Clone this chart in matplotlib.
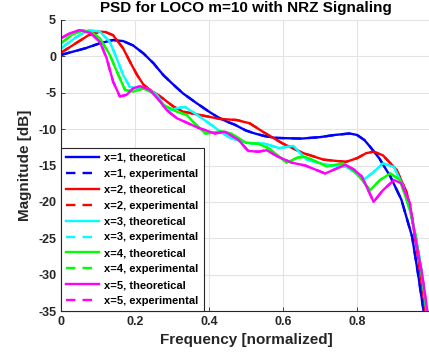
import matplotlib
matplotlib.use("Agg")
import matplotlib.pyplot as plt

# --- data (normalized frequency, magnitude in dB) ---
f_x1 = [0, 0.065, 0.105, 0.141, 0.168, 0.195, 0.223, 0.25, 0.277, 0.304, 0.33,
        0.367, 0.4, 0.425, 0.45, 0.47, 0.5, 0.524, 0.55, 0.578, 0.61,
        0.65, 0.7, 0.74, 0.78, 0.8, 0.82, 0.835, 0.86, 0.89, 0.92, 0.949,
        0.965, 0.98]
db_x1 = [0.2, 1.1, 1.8, 2.25, 2.1, 1.5, 0.4, -0.95, -2.6, -3.9, -5.1,
         -6.45, -7.6, -8.4, -9.0, -9.4, -10.2, -10.6, -10.95, -11.2, -11.25,
         -11.3, -11.1, -10.8, -10.6, -10.8, -11.5, -12.4, -14.0, -16.5, -19.7, -24.8,
         -29.9, -35]

f_x2 = [0, 0.04, 0.074, 0.105, 0.12, 0.141, 0.168, 0.186, 0.205, 0.223, 0.24,
        0.268, 0.304, 0.33, 0.36, 0.4, 0.43, 0.475, 0.51, 0.55, 0.6, 0.655,
        0.71, 0.77, 0.8, 0.825, 0.845, 0.87, 0.907, 0.935, 0.948, 0.965, 0.985]
db_x2 = [0.5, 1.8, 2.9, 3.4, 3.35, 2.9, 1.1, -0.7, -2.5, -3.9, -4.6,
         -5.5, -6.9, -7.6, -7.9, -8.3, -8.6, -8.75, -9.2, -10.5, -12.0, -13.3,
         -14.2, -14.5, -14.0, -13.3, -13.1, -13.6, -15.6, -18.8, -22.0, -27.5, -35]

f_x3 = [0, 0.04, 0.074, 0.105, 0.132, 0.15, 0.168, 0.186, 0.205, 0.232, 0.259,
        0.28, 0.295, 0.315, 0.335, 0.367, 0.403, 0.43, 0.457, 0.49, 0.52, 0.547,
        0.59, 0.628, 0.664, 0.718, 0.772, 0.795, 0.817, 0.845, 0.87, 0.9, 0.925,
        0.95, 0.97, 0.988]
db_x3 = [1.1, 2.6, 3.6, 3.4, 2.0, -0.2, -2.55, -4.2, -4.4, -4.4, -5.3,
         -6.8, -7.4, -7.1, -6.95, -8.0, -9.3, -10.3, -11.2, -11.7, -12.0, -11.95,
         -12.6, -12.3, -14.2, -14.9, -15.2, -16.0, -17.0, -15.9, -14.7, -15.2, -17.9,
         -22.5, -28.0, -35]

f_x4 = [0, 0.03, 0.06, 0.085, 0.105, 0.132, 0.155, 0.173, 0.195, 0.223, 0.25,
        0.277, 0.313, 0.34, 0.357, 0.39, 0.41, 0.43, 0.46, 0.5, 0.533, 0.56,
        0.583, 0.61, 0.64, 0.66, 0.718, 0.763, 0.8, 0.835, 0.862, 0.89, 0.916,
        0.943, 0.96, 0.978, 0.988]
db_x4 = [1.8, 3.0, 3.6, 3.2, 2.5, 0.2, -2.55, -4.6, -4.85, -4.4, -5.1,
         -6.7, -7.6, -8.05, -9.0, -10.6, -10.5, -10.3, -10.6, -11.9, -12.0, -12.6,
         -13.5, -14.6, -13.9, -13.8, -15.1, -14.7, -16.1, -18.4, -17.0, -16.1, -17.0,
         -21.1, -25.0, -31.0, -35]

f_x5 = [0, 0.025, 0.05, 0.08, 0.105, 0.123, 0.141, 0.159, 0.177, 0.195, 0.214,
        0.24, 0.268, 0.286, 0.313, 0.335, 0.37, 0.416, 0.443, 0.48, 0.506, 0.533,
        0.556, 0.587, 0.623, 0.66, 0.714, 0.768, 0.79, 0.813, 0.845, 0.87, 0.9,
        0.92, 0.943, 0.957, 0.976, 0.99]
db_x5 = [2.5, 3.2, 3.6, 3.2, 2.0, -0.2, -3.5, -5.5, -5.3, -4.4, -4.1,
         -4.6, -6.2, -7.4, -8.5, -9.0, -9.8, -10.6, -10.35, -11.5, -13.0, -13.1,
         -12.9, -13.8, -14.6, -15.0, -16.1, -14.9, -15.5, -16.5, -20.0, -18.4, -17.0,
         -17.45, -20.2, -24.8, -29.9, -35]

series = [
    ("x=1", f_x1, db_x1, "#0000ff"),
    ("x=2", f_x2, db_x2, "#ff0000"),
    ("x=3", f_x3, db_x3, "#00ffff"),
    ("x=4", f_x4, db_x4, "#00ff00"),
    ("x=5", f_x5, db_x5, "#ff00ff"),
]

x_ticks = [0, 0.2, 0.4, 0.6, 0.8]
x_tick_labels = ["0", "0.2", "0.4", "0.6", "0.8"]
y_ticks = [5, 0, -5, -10, -15, -20, -25, -30, -35]

plt.rcParams["font.family"] = ["Liberation Sans", "DejaVu Sans"]
plt.rcParams["font.weight"] = "bold"
plt.rcParams["axes.unicode_minus"] = False

fig = plt.figure(figsize=(4.29, 3.6), dpi=100)
ax = fig.add_axes([61 / 429, 1 - 311 / 360, 370 / 429, 291 / 360])

handles = []
labels = []
for name, f, db, color in series:
    theo, = ax.plot(f, db, color=color, lw=1.7, solid_joinstyle="round")
    # experimental curves lie under the theoretical ones
    expe, = ax.plot(f, db, color=color, lw=1.7, linestyle=(0, (4, 3)), zorder=1.9)
    handles += [theo, expe]
    labels += [f"{name}, theoretical", f"{name}, experimental"]

ax.set_xlim(0, 1)
ax.set_ylim(-35, 5)
ax.set_xticks(x_ticks)
ax.set_xticklabels(x_tick_labels)
ax.set_yticks(y_ticks)
ax.tick_params(direction="in", labelsize=9, colors="#262626", length=3, width=0.6)
for lab in ax.get_xticklabels() + ax.get_yticklabels():
    lab.set_fontweight("bold")
ax.grid(True, color="#e3e3e3", lw=0.8)
ax.set_axisbelow(True)
for side in ("top", "right"):
    ax.spines[side].set_visible(False)
for side in ("left", "bottom"):
    ax.spines[side].set_color("#262626")
    ax.spines[side].set_linewidth(0.8)

ax.set_title("PSD for LOCO m=10 with NRZ Signaling", fontsize=11, fontweight="bold", pad=6)
ax.set_xlabel("Frequency [normalized]", fontsize=11, fontweight="bold", color="#262626")
ax.set_ylabel("Magnitude [dB]", fontsize=11, fontweight="bold", color="#262626")

leg = ax.legend(handles, labels, loc="lower left", bbox_to_anchor=(0, 0),
                borderaxespad=0, fontsize=8, handlelength=3.0, handletextpad=0.45,
                labelspacing=0.53, borderpad=0.45, fancybox=False, framealpha=1,
                edgecolor="#262626")
leg.get_frame().set_linewidth(0.8)
for t in leg.get_texts():
    t.set_fontweight("bold")

fig.savefig("out.png", dpi=100)
